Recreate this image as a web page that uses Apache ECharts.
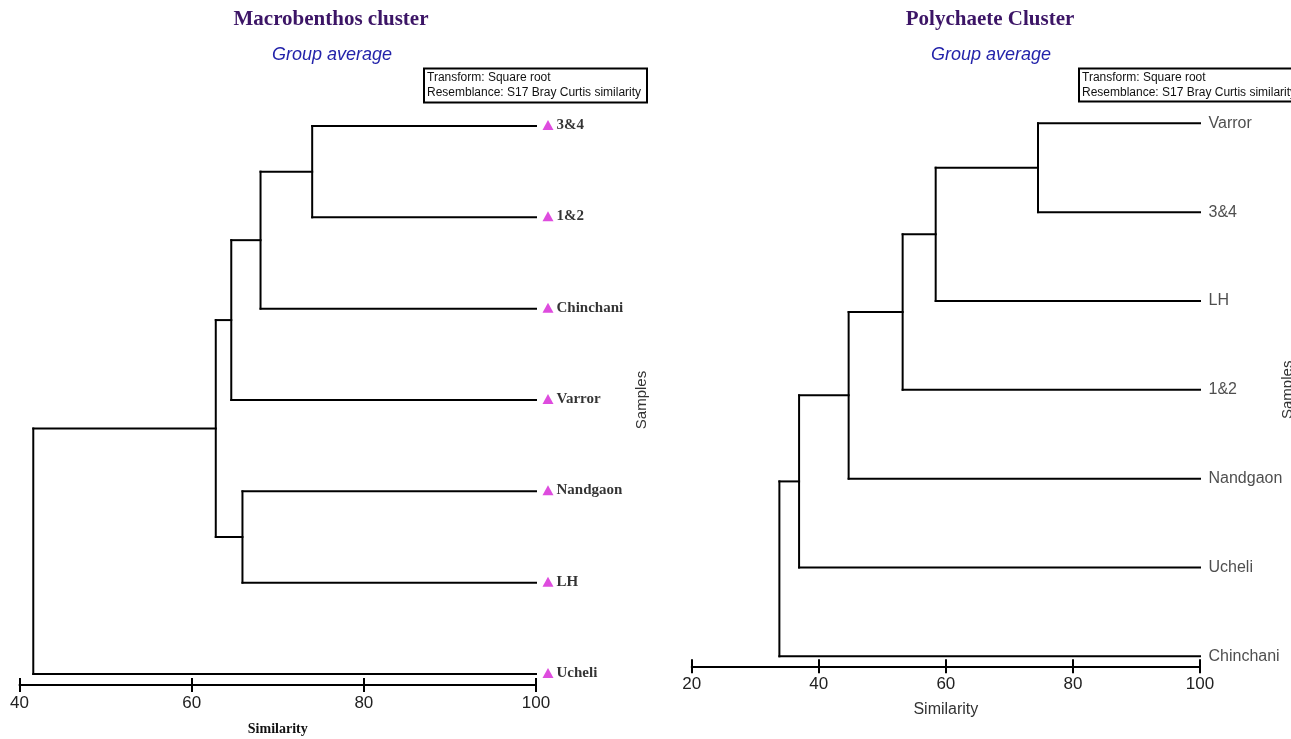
<!DOCTYPE html>
<html><head><meta charset="utf-8">
<script src="https://cdn.jsdelivr.net/npm/echarts@6/dist/echarts.min.js"></script>
<style>html,body{margin:0;padding:0;background:#fff}#c{width:1291px;height:739px}</style>
</head><body><div id="c"></div>
<script>
// ---- data ----
const leftTitle = 'Macrobenthos cluster';
const rightTitle = 'Polychaete Cluster';
const subTitle = 'Group average';
const boxLines = ['Transform: Square root', 'Resemblance: S17 Bray Curtis similarity'];
const leftLeaves = ['3&4', '1&2', 'Chinchani', 'Varror', 'Nandgaon', 'LH', 'Ucheli'];
// merges: [child A, child B, similarity]; leaves are 0..n-1, new clusters n, n+1, ...
const leftMerges = [[0, 1, 74.0], [7, 2, 68.0], [8, 3, 64.6], [4, 5, 65.9], [9, 10, 62.8], [11, 6, 41.6]];
const leftTicks = [40, 60, 80, 100];
const rightLeaves = ['Varror', '3&4', 'LH', '1&2', 'Nandgaon', 'Ucheli', 'Chinchani'];
const rightMerges = [[0, 1, 74.5], [7, 2, 58.4], [8, 3, 53.2], [9, 4, 44.7], [10, 5, 36.9], [11, 6, 33.8]];
const rightTicks = [20, 40, 60, 80, 100];

function buildSegments(leaves, merges) {
  const nodes = leaves.map((n, i) => ({ x: 100, y: i }));
  const segs = [];
  merges.forEach(([a, b, s]) => {
    const A = nodes[a], B = nodes[b];
    segs.push([A.x, A.y, s, A.y]);
    segs.push([B.x, B.y, s, B.y]);
    segs.push([s, A.y, s, B.y]);
    nodes.push({ x: s, y: (A.y + B.y) / 2 });
  });
  return segs;
}

const SANS = '"Liberation Sans", Arial, sans-serif';
const SERIF = '"Liberation Serif", "Times New Roman", serif';

function renderSeg(params, api) {
  const p1 = api.coord([api.value(0), api.value(1)]);
  const p2 = api.coord([api.value(2), api.value(3)]);
  return { type: 'line', shape: { x1: p1[0], y1: p1[1], x2: p2[0], y2: p2[1] },
    style: { stroke: '#000', lineWidth: 2, lineCap: 'square' } };
}

function xAxes(gi, ticks, offset, labelFont, nameStyle, nameGap) {
  const base = { type: 'value', gridIndex: gi, position: 'bottom', min: ticks[0], max: ticks[ticks.length - 1],
    interval: ticks[1] - ticks[0], offset: offset, splitLine: { show: false } };
  return [
    Object.assign({}, base, {
      axisLine: { show: true, onZero: false, lineStyle: { color: '#000', width: 2 } },
      axisTick: { show: true, length: 7, lineStyle: { color: '#000', width: 2 } },
      axisLabel: Object.assign({ margin: 10, color: '#222' }, labelFont),
      name: 'Similarity', nameLocation: 'middle', nameGap: nameGap, nameTextStyle: nameStyle
    }),
    Object.assign({}, base, {
      axisLine: { show: false, onZero: false },
      axisTick: { show: true, inside: true, length: 7, lineStyle: { color: '#000', width: 2 } },
      axisLabel: { show: false }
    })
  ];
}

function yAxis(gi, n, gap) {
  return { type: 'value', gridIndex: gi, min: 0, max: n - 1, inverse: true, position: 'right',
    axisLine: { show: false, onZero: false }, axisTick: { show: false }, axisLabel: { show: false }, splitLine: { show: false },
    name: 'Samples', nameLocation: 'middle', nameRotate: 90, nameGap: gap,
    nameTextStyle: { fontFamily: SANS, fontSize: 15, color: '#333' } };
}

const chart = echarts.init(document.getElementById('c'));
chart.setOption({
  animation: false,
  backgroundColor: '#fff',
  grid: [
    { left: 19.5, top: 126, width: 516.5, height: 548, outerBoundsMode: 'none', containLabel: false },
    { left: 691.7, top: 123.3, width: 508.3, height: 533, outerBoundsMode: 'none', containLabel: false }
  ],
  xAxis: [].concat(
    xAxes(0, leftTicks, 11, { fontFamily: SANS, fontSize: 17 },
      { fontFamily: SERIF, fontWeight: 'bold', fontSize: 14, color: '#111' }, 37),
    xAxes(1, rightTicks, 10, { fontFamily: SANS, fontSize: 17 },
      { fontFamily: SANS, fontSize: 16, color: '#333' }, 35)
  ),
  yAxis: [yAxis(0, leftLeaves.length, 98), yAxis(1, rightLeaves.length, 80)],
  series: [
    { type: 'custom', xAxisIndex: 0, yAxisIndex: 0, clip: false, renderItem: renderSeg,
      encode: { x: [0, 2], y: [1, 3] }, data: buildSegments(leftLeaves, leftMerges) },
    { type: 'custom', xAxisIndex: 2, yAxisIndex: 1, clip: false, renderItem: renderSeg,
      encode: { x: [0, 2], y: [1, 3] }, data: buildSegments(rightLeaves, rightMerges) },
    { type: 'scatter', xAxisIndex: 0, yAxisIndex: 0, clip: false, symbol: 'triangle',
      symbolSize: [11, 10], symbolOffset: [12, -1], itemStyle: { color: '#d61fd6' },
      label: { show: true, position: 'right', distance: 3, formatter: p => p.value[2],
        fontFamily: SERIF, fontWeight: 'bold', fontSize: 15, color: '#000' },
      data: leftLeaves.map((n, i) => [100, i, n]) },
    { type: 'scatter', xAxisIndex: 2, yAxisIndex: 1, clip: false, symbol: 'circle',
      symbolSize: 1, itemStyle: { color: 'rgba(0,0,0,0)' },
      label: { show: true, position: 'right', distance: 8, formatter: p => p.value[2],
        fontFamily: SANS, fontSize: 16, color: '#222' },
      data: rightLeaves.map((n, i) => [100, i, n]) }
  ],
  graphic: [
    { type: 'text', x: 331, y: 20, style: { text: leftTitle, font: 'bold 21px ' + SERIF, fill: '#3c1566', align: 'center', verticalAlign: 'middle' } },
    { type: 'text', x: 332, y: 55, style: { text: subTitle, font: 'italic 18px ' + SANS, fill: '#2323aa', align: 'center', verticalAlign: 'middle' } },
    { type: 'text', x: 990, y: 20, style: { text: rightTitle, font: 'bold 21px ' + SERIF, fill: '#3c1566', align: 'center', verticalAlign: 'middle' } },
    { type: 'text', x: 991, y: 55, style: { text: subTitle, font: 'italic 18px ' + SANS, fill: '#2323aa', align: 'center', verticalAlign: 'middle' } },
    { type: 'rect', shape: { x: 424, y: 68.5, width: 223, height: 34 }, style: { fill: '#fff', stroke: '#000', lineWidth: 2 } },
    { type: 'text', x: 427, y: 85.5, style: { text: boxLines.join('\n'), font: '12px ' + SANS, lineHeight: 15, fill: '#111', verticalAlign: 'middle' } },
    { type: 'rect', shape: { x: 1079, y: 68.5, width: 220, height: 33 }, style: { fill: '#fff', stroke: '#000', lineWidth: 2 } },
    { type: 'text', x: 1082, y: 85, style: { text: boxLines.join('\n'), font: '12px ' + SANS, lineHeight: 15, fill: '#111', verticalAlign: 'middle' } }
  ]
});
</script></body></html>
